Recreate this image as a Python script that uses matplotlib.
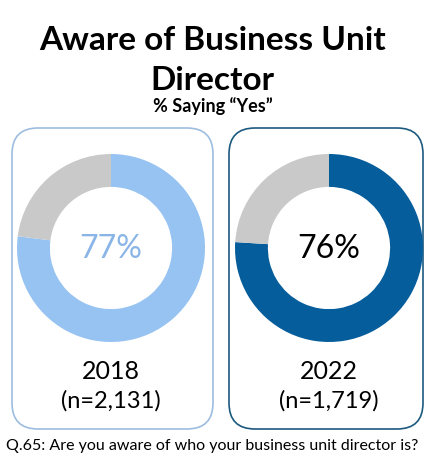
import matplotlib.pyplot as plt
from matplotlib.patches import FancyBboxPatch

# survey results
years = ['2018', '2022']
sample_sizes = ['(n=2,131)', '(n=1,719)']
pct_yes = [77, 76]

ring_colors = ['#97c3f2', '#065d9b']
box_colors = ['#9dbde0', '#1d5a80']
label_colors = ['#8ab5e6', '#000000']
grey = '#c9c9c9'

plt.rcParams['font.family'] = ['Lato', 'DejaVu Sans']

W, H = 425, 456
fig = plt.figure(figsize=(W / 100, H / 100), dpi=100)

# background axes in pixel units, y pointing down
bg = fig.add_axes([0, 0, 1, 1])
bg.set_xlim(0, W)
bg.set_ylim(H, 0)
bg.axis('off')

bg.text(W / 2, 40, 'Aware of Business Unit', ha='center', va='center',
        fontsize=24, fontweight='bold')
bg.text(W / 2, 80, 'Director', ha='center', va='center',
        fontsize=24, fontweight='bold')
bg.text(W / 2, 106, '% Saying \u201cYes\u201d', ha='center', va='center',
        fontsize=13, fontweight='bold')

box_x = [12, 229]
box_w = [201, 194]
centers = [111, 329]
for i in range(2):
    box = FancyBboxPatch((box_x[i], 129), box_w[i], 301,
                         boxstyle='round,pad=0,rounding_size=26',
                         fc='white', ec=box_colors[i], lw=1.2)
    bg.add_patch(box)
    bg.text(centers[i], 372, years[i], ha='center', va='center', fontsize=18)
    bg.text(centers[i], 401, sample_sizes[i], ha='center', va='center', fontsize=17)

bg.text(W / 2, 446, 'Q.65: Are you aware of who your business unit director is?',
        ha='center', va='center', fontsize=11.5)

# donuts
r = 94
cy = 249
for i in range(2):
    ax = fig.add_axes([(centers[i] - r) / W, (H - cy - r) / H, 2 * r / W, 2 * r / H])
    ax.pie([pct_yes[i], 100 - pct_yes[i]], colors=[ring_colors[i], grey],
           startangle=90, counterclock=False, radius=1,
           wedgeprops=dict(width=0.35, linewidth=0))
    ax.set_xlim(-1, 1)
    ax.set_ylim(-1, 1)
    ax.text(0, 0, f'{pct_yes[i]}%', ha='center', va='center',
            fontsize=23, color=label_colors[i])

fig.savefig('out.png', dpi=100)
